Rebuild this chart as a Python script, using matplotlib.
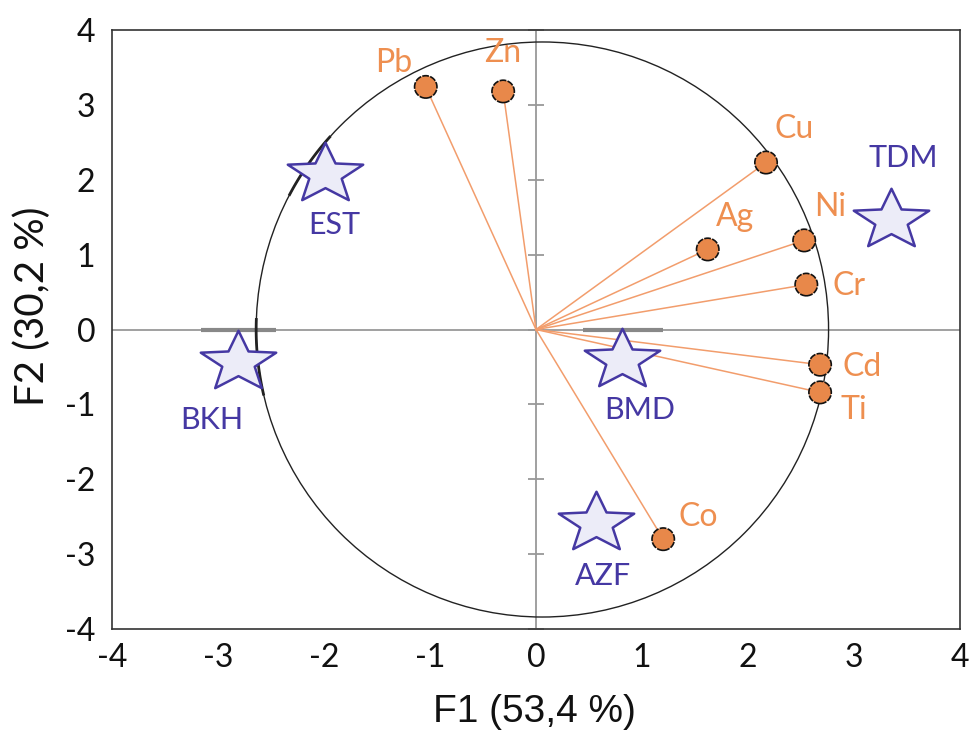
import numpy as np
import matplotlib
matplotlib.use("Agg")
import matplotlib.pyplot as plt
from matplotlib.patches import Ellipse
from matplotlib.path import Path

plt.rcParams['font.family'] = ['Lato', 'DejaVu Sans']

# Variables (loadings, scaled)
var_names = ["Pb", "Zn", "Cu", "Ag", "Ni", "Cr", "Cd", "Ti", "Co"]
var_x = [-1.04, -0.31, 2.17, 1.62, 2.53, 2.55, 2.68, 2.68, 1.20]
var_y = [3.24, 3.18, 2.23, 1.07, 1.19, 0.60, -0.47, -0.84, -2.80]

# Observations (sites)
obs_names = ["EST", "BKH", "TDM", "BMD", "AZF"]
obs_x = [-1.99, -2.81, 3.35, 0.81, 0.57]
obs_y = [2.08, -0.43, 1.46, -0.41, -2.59]

# horizontal bars at y=0 (BKH, BMD)
bar_x0 = [-3.16, 0.44]
bar_x1 = [-2.45, 1.20]

ticks = [-4, -3, -2, -1, 0, 1, 2, 3, 4]

orange_txt = "#EE8F50"
orange_line = "#F29D6C"
orange_fill = "#E8884A"
blue = "#4538A3"
star_fill = "#ECECF8"

# star marker shape (slightly flattened 5-point star)
ang_o = np.radians(90 + 72*np.arange(5))
ang_i = ang_o + np.radians(36)
rin = 0.43
pts = []
for ao, ai in zip(ang_o, ang_i):
    pts.append((np.cos(ao), 0.8*np.sin(ao)))
    pts.append((rin*np.cos(ai), 0.8*rin*np.sin(ai)))
pts.append(pts[0])
codes = [Path.MOVETO] + [Path.LINETO]*(len(pts)-2) + [Path.CLOSEPOLY]
star_path = Path(pts, codes)

fig = plt.figure(figsize=(9.72, 7.37), dpi=100)
ax = fig.add_axes([112/972, 108/737, 848/972, 599/737])
ax.set_xlim(-4, 4)
ax.set_ylim(-4, 4)

# central axes
ax.axhline(0, color="#999999", lw=1.3, zorder=1)
ax.axvline(0, color="#999999", lw=1.3, zorder=1)
ax.plot([0]*len(ticks), ticks, ls="none", marker="_", ms=12, mew=1.3,
        color="#999999", zorder=1, clip_on=False)

# grey bars
for a, b in zip(bar_x0, bar_x1):
    ax.plot([a, b], [0, 0], color="#888888", lw=3, solid_capstyle="butt", zorder=2)

# correlation circle (circle in pixel space)
cx = 0.06
rx = 2.70
ry = 3.84
ax.add_patch(Ellipse((cx, 0), 2*rx, 2*ry, fill=False, ec="#222222", lw=1.0, zorder=2))
for t0, t1 in [(138, 152), (178, 193)]:
    t = np.radians(np.linspace(t0, t1, 30))
    ax.plot(cx + rx*np.cos(t), ry*np.sin(t), color="#222222", lw=2.0, zorder=2)

# vectors
for x, y in zip(var_x, var_y):
    ax.plot([0, x], [0, y], color=orange_line, lw=1.1, zorder=3)
ax.scatter(var_x, var_y, s=260, c=orange_fill, edgecolors="#111111",
           linewidths=1.2, linestyles=(0, (4, 0.8)), zorder=5)

var_off = {"Pb": (-23, 17), "Zn": (0, 28), "Cu": (20, 24.5), "Ag": (20, 23),
           "Ni": (19, 24), "Cr": (31, -1), "Cd": (30, -1.5), "Ti": (24, -13),
           "Co": (25, 16)}
for n, x, y in zip(var_names, var_x, var_y):
    dx, dy = var_off[n]
    ax.annotate(n, (x, y), xytext=(dx, dy), textcoords="offset points",
                ha="center", va="center", fontsize=23, color=orange_txt, zorder=6)

# stars
ax.scatter(obs_x, obs_y, s=2950, marker=star_path, c=star_fill, edgecolors=blue,
           linewidths=1.8, zorder=4)
obs_off = {"EST": (6.5, -37), "BKH": (-19, -42), "TDM": (9, 45), "BMD": (13, -36),
           "AZF": (5, -38)}
for n, x, y in zip(obs_names, obs_x, obs_y):
    dx, dy = obs_off[n]
    ax.annotate(n, (x, y), xytext=(dx, dy), textcoords="offset points",
                ha="center", va="center", fontsize=22, color=blue, zorder=6)

ax.set_xticks(ticks)
ax.set_yticks(ticks)
ax.set_xticklabels([str(v) for v in ticks])
ax.set_yticklabels([str(v) for v in ticks])
ax.tick_params(length=0, labelsize=23, colors="#111111")
ax.tick_params(axis="x", pad=10)
ax.tick_params(axis="y", pad=12)
for s in ax.spines.values():
    s.set_color("#333333")
    s.set_linewidth(1.2)

ax.set_xlabel("F1 (53,4 %)", fontsize=28, color="#111111",
              family=["Liberation Sans", "DejaVu Sans"])
ax.xaxis.set_label_coords(0.498, -0.108)
ax.set_ylabel("F2 (30,2 %)", fontsize=29, color="#111111")
ax.yaxis.set_label_coords(-0.072, 0.539)

fig.savefig("out.png", dpi=100)
